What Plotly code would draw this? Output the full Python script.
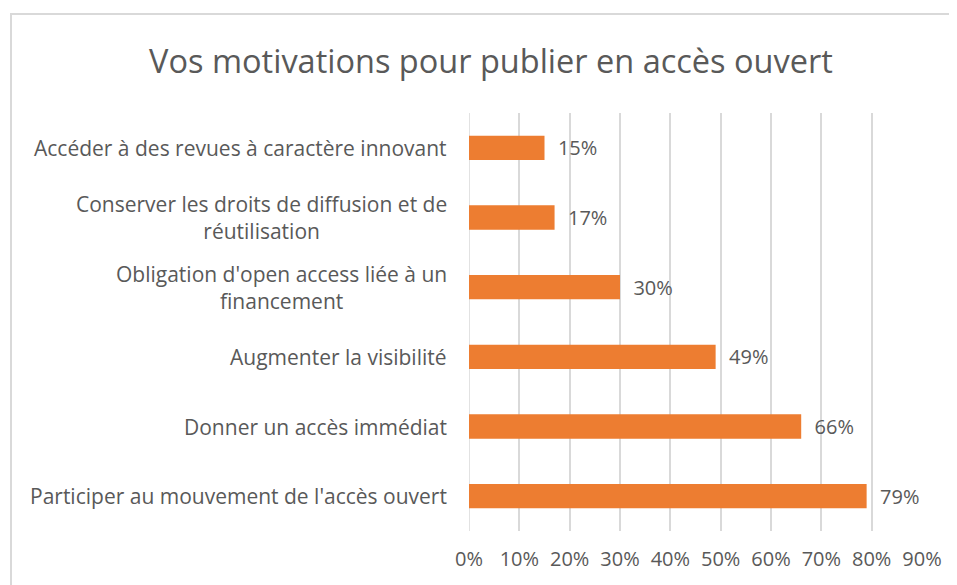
import plotly.graph_objects as go

categories = [
    "Participer au mouvement de l'accès ouvert",
    "Donner un accès immédiat",
    "Augmenter la visibilité",
    "Obligation d'open access liée à un<br>financement",
    "Conserver les droits de diffusion et de<br>réutilisation",
    "Accéder à des revues à caractère innovant",
]
values = [0.79, 0.66, 0.49, 0.30, 0.17, 0.15]
tick_vals = [0, 0.1, 0.2, 0.3, 0.4, 0.5, 0.6, 0.7, 0.8, 0.9]
tick_text = ["0%", "10%", "20%", "30%", "40%", "50%", "60%", "70%", "80%", "90%"]
title = "Vos motivations pour publier en accès ouvert"

OFF = 8  # page body margin
W, H = 957, 585
L = 469 - OFF
T = 113 - OFF
R = W - (922 - OFF)
B = H - (531 - OFF)
pw, ph = W - L - R, H - T - B
FONT = "Open Sans"
GRAY = "#595959"

fig = go.Figure(go.Bar(
    x=values, y=categories, orientation="h",
    marker=dict(color="#ED7D31", line=dict(width=0)),
    width=0.35,
    text=[f"{round(v*100)}%" for v in values],
    texttemplate="  %{text}",
    textposition="outside",
    constraintext="none",
    textfont=dict(family=FONT, size=20, color=GRAY),
    cliponaxis=False,
))

for c in categories:
    fig.add_annotation(
        x=0, xref="paper", xanchor="right", xshift=-20,
        y=c, yref="y", yanchor="middle",
        text=c, showarrow=False, align="center",
        font=dict(family=FONT, size=21, color=GRAY),
    )

fig.add_shape(type="rect", xref="paper", yref="paper",
              x0=(11 - OFF - L) / pw, x1=(980 - L) / pw,
              y0=-(620 - (H - B)) / ph, y1=1 + (T - (14 - OFF)) / ph,
              line=dict(color="#d9d9d9", width=2), fillcolor="rgba(0,0,0,0)", layer="below")

fig.update_layout(
    width=W, height=H,
    margin=dict(l=L, r=R, t=T, b=B),
    paper_bgcolor="white", plot_bgcolor="white",
    showlegend=False,
    title=dict(text=title, x=(491 - OFF) / W, xanchor="center", y=1 - (62 - OFF) / H, yanchor="middle",
               font=dict(family=FONT, size=32.5, color=GRAY)),
    xaxis=dict(range=[0, 0.9], tickvals=tick_vals, ticktext=tick_text,
               showgrid=True, gridcolor="#d9d9d9", gridwidth=1.5,
               zeroline=False, showline=False, ticks="",
               tickfont=dict(family=FONT, size=20, color=GRAY), ticklabelstandoff=14),
    yaxis=dict(showticklabels=False, showgrid=False, zeroline=False, showline=False,
               categoryorder="array", categoryarray=categories),
)
fig.add_vline(x=0, line=dict(color="#d9d9d9", width=1.5), layer="below")

fig.write_html("out.html")
